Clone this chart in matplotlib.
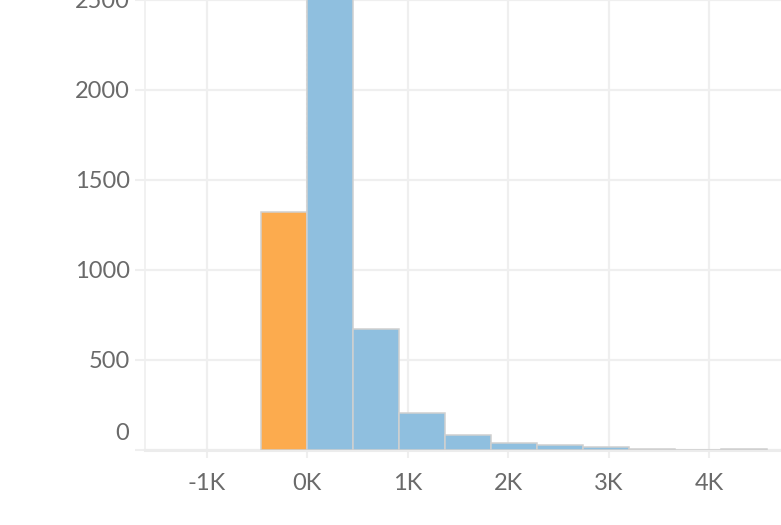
import matplotlib
matplotlib.use("Agg")
import matplotlib.pyplot as plt
import numpy as np

# histogram bins (width ~458), counts
bin_width = 458
bin_starts = np.arange(-1, 10) * bin_width
counts = [1322, 2830, 667, 203, 80, 36, 25, 12, 4, 0, 3]
# first bin is the highlighted (negative) one
bar_colors = ["#fcab4e"] + ["#8fbfdf"] * 10

x_ticks = [-1000, 0, 1000, 2000, 3000, 4000]
x_labels = ["-1K", "0K", "1K", "2K", "3K", "4K"]
y_ticks = [0, 500, 1000, 1500, 2000, 2500]
y_labels = ["", "500", "1000", "1500", "2000", "2500"]

plt.rcParams["font.family"] = ["Lato", "DejaVu Sans"]
text_color = "#6a6a6a"
grid_color = "#efefef"

fig = plt.figure(figsize=(7.81, 5.25), dpi=100)
W, H = 781, 525
# axes pixel box: left 145, baseline 449.5, spills past right and top edges
ax_left, ax_base = 145, 449.5
xmin, xmax = -1612, 5000
ymin, ymax = 0, 2700
px_x = 100.5 / 1000
px_y = 180 / 1000
ax = fig.add_axes([ax_left / W, (H - ax_base) / H,
                   (xmax - xmin) * px_x / W, (ymax - ymin) * px_y / H])

ax.bar(bin_starts, counts, width=bin_width, align="edge", color=bar_colors,
       edgecolor="#d0d0d0", linewidth=1.1, zorder=3)
ax.axvline(0, color="#bdbdbd", linestyle=(0, (2, 1.5)), linewidth=1.0, zorder=2)

ax.set_xlim(xmin, xmax)
ax.set_ylim(ymin, ymax)
ax.set_xticks(x_ticks)
ax.set_xticklabels(x_labels)
ax.set_yticks(y_ticks)
ax.set_yticklabels(y_labels)

ax.grid(True, color=grid_color, linewidth=1.6, zorder=0)
ax.set_axisbelow(True)
for side in ["top", "right"]:
    ax.spines[side].set_visible(False)
ax.spines["left"].set_color(grid_color)
ax.spines["left"].set_linewidth(1.2)
ax.spines["bottom"].set_color("#ececec")
ax.spines["bottom"].set_linewidth(2.2)

ax.tick_params(axis="both", colors=grid_color, labelcolor=text_color,
               labelsize=17, width=1.5)
ax.tick_params(axis="y", length=7, pad=4)
ax.tick_params(axis="x", length=6, pad=11)

# zero label sits a bit above the baseline
ax.annotate("0", xy=(0, 0), xycoords=("axes fraction", "data"),
            xytext=(-16, 16), textcoords="offset pixels",
            ha="right", va="center", fontsize=17, color=text_color)

fig.savefig("out.png", dpi=100)
